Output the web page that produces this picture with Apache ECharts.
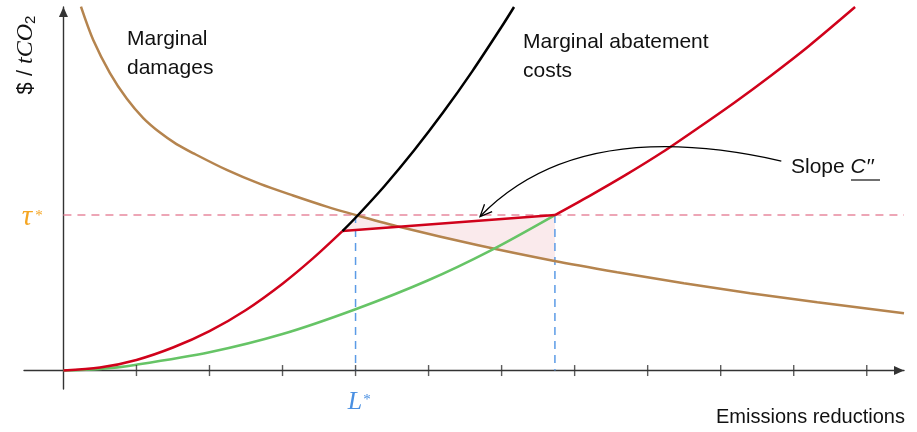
<!DOCTYPE html>
<html><head><meta charset="utf-8">
<script src="https://cdn.jsdelivr.net/npm/echarts@6/dist/echarts.min.js"></script>
<style>html,body{margin:0;padding:0;background:#fff}#c{width:917px;height:432px}</style>
</head><body><div id="c"></div>
<script>
// ---- data (x in tick units, y in price units) ----
const xTicks = [1, 2, 3, 4, 5, 6, 7, 8, 9, 10, 11];
const tauStar = 2.13;
const lStar = 4.0;
const rightCut = 6.73;

const damagesX = [0.24,0.408,0.637,0.866,1.093,1.322,1.548,1.774,2.236,2.692,3.144,3.605,4.007,4.61,5.664,6.705,7.582,8.496,9.404,10.322,11.51];
const damagesY = [4.984,4.527,4.075,3.726,3.459,3.26,3.102,2.979,2.748,2.556,2.397,2.245,2.129,1.966,1.719,1.504,1.347,1.196,1.06,0.934,0.786];

const greenX = [0,0.5,1.0,2.0,3.0,4.0,4.98,5.84,6.73];
const greenY = [0,0.02,0.08,0.25,0.50,0.84,1.23,1.64,2.13];

const redLowX = [0,0.5,1.0,1.5,2.0,2.5,3.0,3.42,3.82];
const redLowY = [0,0.04,0.145,0.315,0.54,0.83,1.19,1.54,1.91];

const redFlatX = [3.82,6.73];
const redFlatY = [1.91,2.13];

const redUpX = [6.73,7.2,7.7,8.2,8.7,9.2,9.7,10.2,10.84];
const redUpY = [2.13,2.39,2.68,2.99,3.33,3.68,4.05,4.44,4.98];

const blackX = [3.82,4.0,4.4,4.8,5.2,5.6,6.0,6.17];
const blackY = [1.91,2.093,2.532,3.014,3.537,4.102,4.709,4.98];

const fillX = [3.82,4.02,4.61,5.1,5.664,6.2,6.73,6.73];
const fillY = [1.91,2.125,1.966,1.84,1.719,1.60,1.50,2.13];

const arrowStart = [9.83, 2.87];
const arrowCtrl = [7.05, 3.50];
const arrowEnd = [5.705, 2.11];

// ---- chart ----
const pair = (xs, ys) => xs.map((x, i) => [x, ys[i]]);
const chart = echarts.init(document.getElementById('c'), null, {renderer: 'canvas'});
const axisLineStyle = {color: '#333', width: 1.4};
const font = "'Liberation Sans', Arial, sans-serif";
const mathFont = "'Liberation Serif', 'Times New Roman', serif";

function lineSeries(data, color, width, extra) {
  return Object.assign({
    type: 'line', data: data, symbol: 'none', silent: true,
    lineStyle: {color: color, width: width}, smooth: 0.3,
    clip: false
  }, extra || {});
}

const option = {
  animation: false,
  grid: {left: 24, right: 13, top: 7, bottom: 43},
  xAxis: {
    type: 'value', min: -0.54, max: 11.51,
    axisLine: {onZero: true, symbol: ['none', 'triangle'], symbolSize: [9, 10], symbolOffset: [0, -5], lineStyle: axisLineStyle},
    axisTick: {show: false}, axisLabel: {show: false}, splitLine: {show: false}
  },
  yAxis: {
    type: 'value', min: -0.253, max: 4.98,
    axisLine: {onZero: true, symbol: ['none', 'triangle'], symbolSize: [9, 10], symbolOffset: [0, -5], lineStyle: axisLineStyle},
    axisTick: {show: false}, axisLabel: {show: false}, splitLine: {show: false}
  },
  series: [
    {
      type: 'custom', silent: true, z: 1,
      data: [[fillX[0], fillY[0]]],
      renderItem: function (params, api) {
        const pts = fillX.map((x, i) => api.coord([x, fillY[i]]));
        return {type: 'polygon', shape: {points: pts, smooth: 0}, style: {fill: 'rgba(236,170,178,0.25)'}};
      }
    },
    lineSeries([[0, tauStar], [11.51, tauStar]], '#e8899f', 1.5, {smooth: false, lineStyle: {color: '#e8899f', width: 1.5, type: [8, 6]}}),
    lineSeries([[lStar, tauStar], [lStar, 0]], '#5b9be6', 1.5, {smooth: false, lineStyle: {color: '#5b9be6', width: 1.5, type: [8, 6]}}),
    lineSeries([[rightCut, tauStar], [rightCut, 0]], '#5b9be6', 1.5, {smooth: false, lineStyle: {color: '#5b9be6', width: 1.5, type: [8, 6]}}),
    {
      type: 'scatter', silent: true, symbol: 'rect', symbolSize: [1.4, 11],
      itemStyle: {color: '#333'}, data: xTicks.map(x => [x, 0]), z: 3
    },
    lineSeries(pair(damagesX, damagesY), '#b5844e', 2.5),
    lineSeries(pair(greenX, greenY), '#66c466', 2.5),
    lineSeries(pair(redLowX, redLowY), '#d0021b', 2.5),
    lineSeries(pair(redFlatX, redFlatY), '#d0021b', 2.5, {smooth: false}),
    lineSeries(pair(redUpX, redUpY), '#d0021b', 2.5),
    lineSeries(pair(blackX, blackY), '#000000', 2.5),
    {
      type: 'custom', silent: true, z: 5,
      data: [arrowEnd],
      renderItem: function (params, api) {
        const s = api.coord(arrowStart), c = api.coord(arrowCtrl), e = api.coord(arrowEnd);
        const ang = Math.atan2(c[1] - e[1], c[0] - e[0]);
        const L = 13, a = 0.42;
        const p1 = [e[0] + L * Math.cos(ang + a), e[1] + L * Math.sin(ang + a)];
        const p2 = [e[0] + L * Math.cos(ang - a), e[1] + L * Math.sin(ang - a)];
        return {type: 'group', children: [
          {type: 'bezierCurve', shape: {x1: s[0], y1: s[1], x2: e[0], y2: e[1], cpx1: c[0], cpy1: c[1]}, style: {stroke: '#000', fill: null, lineWidth: 1.3}},
          {type: 'polyline', shape: {points: [p1, e, p2]}, style: {stroke: '#000', fill: null, lineWidth: 1.3}}
        ]};
      }
    }
  ],
  graphic: [
    {type: 'text', x: 127, y: 25, style: {text: 'Marginal\ndamages', font: '21px ' + font, fill: '#111', lineHeight: 28.5, verticalAlign: 'top'}},
    {type: 'text', x: 523, y: 28, style: {text: 'Marginal abatement\ncosts', font: '21px ' + font, fill: '#111', lineHeight: 29, verticalAlign: 'top'}},
    {type: 'text', x: 791, y: 167, style: {
      text: '{a|Slope }{b|C′′}', verticalAlign: 'middle', fill: '#111',
      rich: {a: {font: '21px ' + font, fill: '#111'}, b: {font: 'italic 21px ' + font, fill: '#111'}}
    }},
    {type: 'line', shape: {x1: 851, y1: 180, x2: 880, y2: 180}, style: {stroke: '#111', lineWidth: 1.2}},
    {type: 'text', x: 716, y: 417, style: {text: 'Emissions reductions', font: '20px ' + font, fill: '#111', verticalAlign: 'middle'}},
    {type: 'text', x: 27, y: 217, style: {text: 'τ', font: 'italic 29px ' + mathFont, fill: '#f5a623', align: 'center', verticalAlign: 'middle'}},
    {type: 'text', x: 39, y: 216, style: {text: '*', font: '15px ' + mathFont, fill: '#f5a623', align: 'center', verticalAlign: 'middle'}},
    {type: 'text', x: 355, y: 402, style: {text: 'L', font: 'italic 26px ' + mathFont, fill: '#4a90e2', align: 'center', verticalAlign: 'middle'}},
    {type: 'text', x: 367, y: 400, style: {text: '*', font: '15px ' + mathFont, fill: '#4a90e2', align: 'center', verticalAlign: 'middle'}},
    {type: 'text', x: 26, y: 55, rotation: Math.PI / 2, style: {
      text: '{a|$ / }{b|tCO}{c|2}', align: 'center', verticalAlign: 'middle', fill: '#111',
      rich: {
        a: {font: '22px ' + font, fill: '#111', lineHeight: 24, verticalAlign: 'middle'},
        b: {font: 'italic 24px ' + mathFont, fill: '#111', lineHeight: 24, verticalAlign: 'middle'},
        c: {font: '15px ' + font, fill: '#111', lineHeight: 14, verticalAlign: 'bottom'}
      }
    }}
  ]
};
chart.setOption(option);
</script>
</body></html>
